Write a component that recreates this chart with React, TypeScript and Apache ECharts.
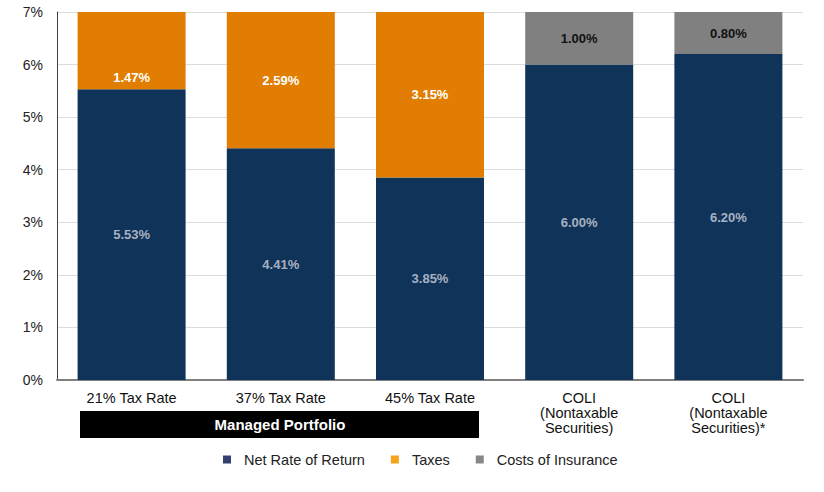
import React, { useEffect, useRef } from "react";
import * as echarts from "echarts";

const categories = [
  "21% Tax Rate",
  "37% Tax Rate",
  "45% Tax Rate",
  "COLI\n(Nontaxable\nSecurities)",
  "COLI\n(Nontaxable\nSecurities)*",
];
const netReturn = [5.53, 4.41, 3.85, 6.0, 6.2];
const taxes: (number | null)[] = [1.47, 2.59, 3.15, null, null];
const insurance: (number | null)[] = [null, null, null, 1.0, 0.8];
const yTicks = [0, 1, 2, 3, 4, 5, 6, 7];

const FONT = "Liberation Sans, Arial, sans-serif";

export default function App() {
  const ref = useRef<HTMLDivElement>(null);
  useEffect(() => {
    if (!ref.current) return;
    const chart = echarts.init(ref.current, undefined, { renderer: "svg" });
    const fmt = (p: any) => (p.value == null ? "" : p.value.toFixed(2) + "%");
    chart.setOption({
      animation: false,
      textStyle: { fontFamily: FONT },
      grid: { left: 57, right: 21, top: 12, bottom: 112 },
      legend: {
        bottom: 20,
        left: 218,
        icon: "rect",
        itemWidth: 8,
        itemHeight: 8,
        itemGap: 26,
        textStyle: { fontSize: 14.5, color: "#222", fontFamily: FONT, padding: [0, 0, 0, 8] },
        data: [
          { name: "Net Rate of Return", itemStyle: { color: "#333f6e" } },
          { name: "Taxes", itemStyle: { color: "#f7a21b" } },
          { name: "Costs of Insurance", itemStyle: { color: "#888888" } },
        ],
      },
      xAxis: {
        type: "category",
        data: categories,
        axisLine: { lineStyle: { color: "#808080", width: 2 } },
        axisTick: { show: false },
        axisLabel: {
          color: "#111",
          fontSize: 14.5,
          lineHeight: 15,
          margin: 10,
          fontFamily: FONT,
          interval: 0,
        },
      },
      yAxis: {
        type: "value",
        min: 0,
        max: yTicks[yTicks.length - 1],
        interval: 1,
        axisLine: { show: true, lineStyle: { color: "#404040", width: 1 } },
        axisTick: { show: false },
        axisLabel: {
          formatter: "{value}%",
          color: "#222",
          fontSize: 14,
          margin: 14,
          fontFamily: FONT,
        },
        splitLine: { lineStyle: { color: "#dcdcdc", width: 1 } },
      },
      series: [
        {
          name: "Net Rate of Return",
          type: "bar",
          stack: "total",
          barWidth: 108,
          data: netReturn,
          itemStyle: { color: "#10335a" },
          label: {
            show: true,
            position: "inside",
            formatter: fmt,
            color: "#a8b1c0",
            fontWeight: "bold",
            fontSize: 13,
            fontFamily: FONT,
          },
        },
        {
          name: "Taxes",
          type: "bar",
          stack: "total",
          barWidth: 108,
          data: taxes.map((v, i) =>
            i === 0 ? { value: v, label: { offset: [0, 27] } } : v
          ),
          itemStyle: { color: "#e17d00" },
          label: {
            show: true,
            position: "inside",
            formatter: fmt,
            color: "#ffffff",
            fontWeight: "bold",
            fontSize: 13,
            fontFamily: FONT,
          },
        },
        {
          name: "Costs of Insurance",
          type: "bar",
          stack: "total",
          barWidth: 108,
          data: insurance,
          itemStyle: { color: "#808080" },
          label: {
            show: true,
            position: "inside",
            formatter: fmt,
            color: "#111111",
            fontWeight: "bold",
            fontSize: 13,
            fontFamily: FONT,
          },
        },
      ],
      graphic: [
        {
          type: "rect",
          left: 80,
          top: 411,
          shape: { width: 399, height: 27 },
          style: { fill: "#000000" },
        },
        {
          type: "text",
          x: 280,
          y: 424.5,
          style: {
            text: "Managed Portfolio",
            fill: "#ffffff",
            font: "bold 15px " + FONT,
            textAlign: "center",
            textVerticalAlign: "middle",
          },
        },
      ],
    });
    return () => chart.dispose();
  }, []);
  return (
    <div
      ref={ref}
      style={{ position: "absolute", left: 0, top: 0, width: 824, height: 492, background: "#fff" }}
    />
  );
}
